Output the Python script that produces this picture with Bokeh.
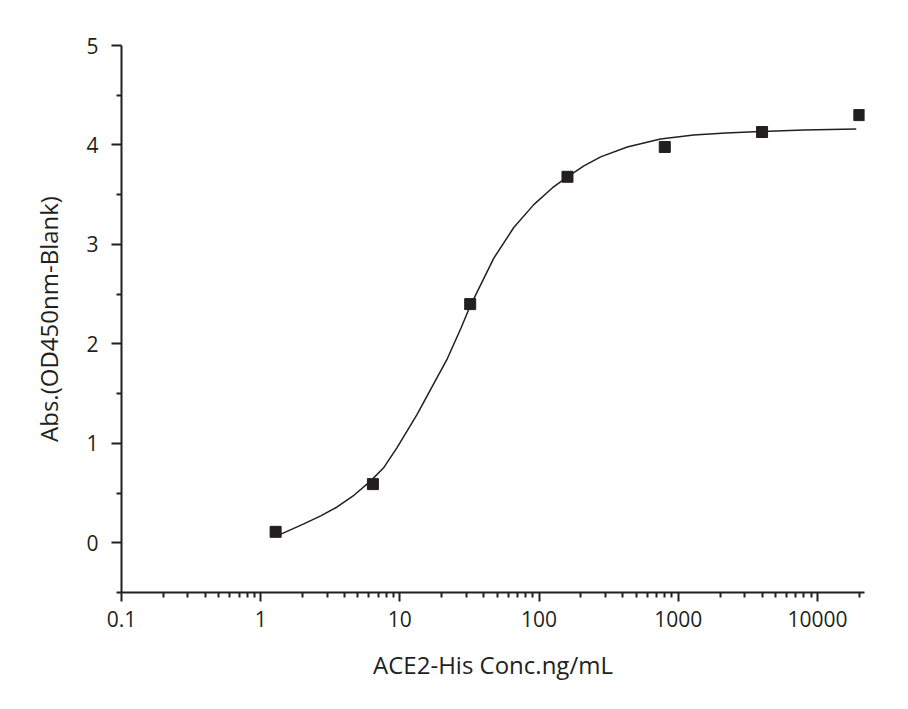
from bokeh.plotting import figure
from bokeh.models import FixedTicker, CustomJSTickFormatter, Range1d
from bokeh.embed import file_html
from bokeh.resources import INLINE

# Measured points
conc = [1.28, 6.4, 32, 160, 800, 4000, 20000]
absorb = [0.11, 0.59, 2.40, 3.68, 3.98, 4.13, 4.30]

# Fitted curve
curve_x = [1.31, 2.04, 2.7, 3.54, 4.7, 6.15, 7.7, 9.57, 13.3, 18.0, 21.9, 27.5, 32,
           47.2, 65.8, 91.6, 125, 160, 210, 277, 430, 745, 1290, 2200,
           3890, 8000, 19000]
curve_y = [0.07, 0.19, 0.27, 0.36, 0.48, 0.62, 0.76, 0.96, 1.29, 1.63, 1.85, 2.16, 2.38,
           2.86, 3.17, 3.40, 3.57, 3.68, 3.79, 3.88, 3.98, 4.06, 4.10, 4.12,
           4.135, 4.15, 4.16]

x_major = [0.1, 1, 10, 100, 1000, 10000]
x_minor = [m * d for d in [0.1, 1, 10, 100, 1000, 10000] for m in range(2, 10)]
y_major = [0, 1, 2, 3, 4, 5]
y_minor = [-0.5, 0.5, 1.5, 2.5, 3.5, 4.5]

INK = "#231f20"
FONT = "Open Sans"

p = figure(width=888, height=688, x_axis_type="log",
           x_range=Range1d(0.1, 21780), y_range=Range1d(-0.5, 5),
           output_backend="svg", toolbar_location=None,
           min_border_left=121, min_border_right=24,
           min_border_top=45, min_border_bottom=96)
p.outline_line_color = None
p.xgrid.visible = False
p.ygrid.visible = False
p.background_fill_color = "white"

p.line(curve_x, curve_y, line_color=INK, line_width=1.5)
p.scatter(conc, absorb, marker="square", size=11, fill_color=INK, line_color=INK)

xa = p.xaxis[0]
xa.ticker = FixedTicker(ticks=x_major, minor_ticks=x_minor)
xa.formatter = CustomJSTickFormatter(code="return tick < 1 ? tick.toString() : tick.toFixed(0);")
ya = p.yaxis[0]
ya.ticker = FixedTicker(ticks=y_major, minor_ticks=y_minor)

for ax in (xa, ya):
    ax.axis_line_color = INK
    ax.axis_line_width = 2
    ax.major_tick_line_color = INK
    ax.minor_tick_line_color = INK
    ax.major_tick_line_width = 2
    ax.minor_tick_line_width = 2
    ax.major_tick_in = 0
    ax.minor_tick_in = 0
    ax.major_label_text_font = FONT
    ax.major_label_text_font_size = "21px"
    ax.major_label_text_color = INK
    ax.axis_label_text_font = FONT
    ax.axis_label_text_font_size = "24px"
    ax.axis_label_text_font_style = "normal"
    ax.axis_label_text_color = INK

xa.major_tick_out = 9
xa.minor_tick_out = 5
xa.major_label_standoff = 9
xa.axis_label = "ACE2-His Conc.ng/mL"
xa.axis_label_standoff = 18

ya.major_tick_out = 10
ya.minor_tick_out = 5
ya.major_label_standoff = 13
ya.axis_label = "Abs.(OD450nm-Blank)"
ya.axis_label_standoff = 18

open("out.html", "w").write(file_html(p, INLINE))
